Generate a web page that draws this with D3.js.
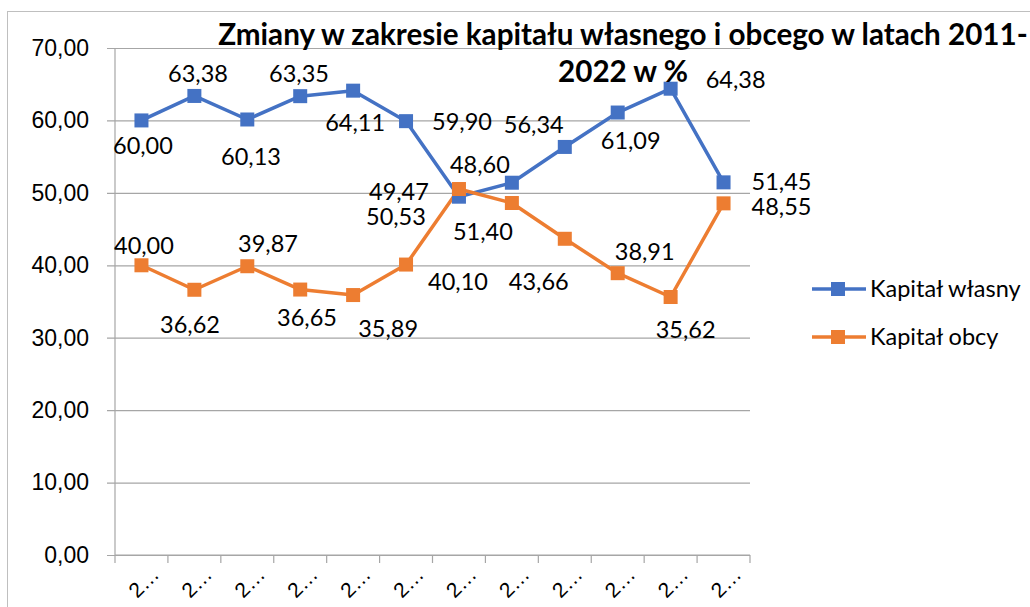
<!DOCTYPE html>
<html><head><meta charset="utf-8">
<script src="https://cdn.jsdelivr.net/npm/d3@7/dist/d3.min.js"></script>
<style>
html,body{margin:0;padding:0;background:#fff;}
svg{display:block;}
</style></head>
<body>
<svg id="chart" width="1030" height="607"></svg>
<script>
// ---- data ----
const categories = ["2011","2012","2013","2014","2015","2016","2017","2018","2019","2020","2021","2022"];
const kapitalWlasny = [60.00, 63.38, 60.13, 63.35, 64.11, 59.90, 49.47, 51.40, 56.34, 61.09, 64.38, 51.45];
const kapitalObcy   = [40.00, 36.62, 39.87, 36.65, 35.89, 40.10, 50.53, 48.60, 43.66, 38.91, 35.62, 48.55];
const yTicks = [0, 10, 20, 30, 40, 50, 60, 70];
const seriesNames = ["Kapitał własny", "Kapitał obcy"];
const titleLines = ["Zmiany w zakresie kapitału własnego i obcego w latach 2011-", "2022 w %"];

// ---- layout (label offsets in px from the marker, as dragged in the original) ----
const offsWlasny = [[1.5,25],[3.6,-22],[3.7,37.5],[-1.2,-22],[2,32],[56,1],[-60,-5],[-29,49],[-31,-22],[13,28],[65,-9],[58,-0.5]];
const offsObcy   = [[2.5,-20],[-4.4,35],[20.7,-22],[6.8,28.5],[35,34],[52,17],[-63,28],[-32,-38],[-26,43],[27,-21],[15,33],[58,3]];
const colors = ["#4472C4", "#ED7D31"];
const FONT = "Lato, 'Open Sans', sans-serif";

const pl = d3.formatLocale({decimal: ",", thousands: " ", grouping: [3], currency: ["", " zł"]});
const fmt = pl.format(".2f");

const svg = d3.select("#chart");
const L = 115, R = 750, T = 48, B = 555;

// outer border
svg.append("rect").attr("x", 7.5).attr("y", 11.5).attr("width", 1040).attr("height", 620)
  .attr("fill", "none").attr("stroke", "#bfbfbf").attr("stroke-width", 1);

const x = d3.scaleBand().domain(categories).range([L, R]).paddingInner(0).paddingOuter(0);
const y = d3.scaleLinear().domain([0, 70]).range([B, T]);
const cx = c => x(c) + x.bandwidth() / 2;

// gridlines + y axis
const yAxis = d3.axisLeft(y).tickValues(yTicks).tickSize(R - L + 8).tickPadding(18).tickFormat(fmt);
const gy = svg.append("g").attr("transform", `translate(${R},0)`).call(yAxis);
gy.select(".domain").remove();
gy.selectAll(".tick line").attr("stroke", "#a6a6a6").attr("stroke-width", 1.2);
gy.selectAll(".tick text").attr("font-family", "'Liberation Sans', Arial, sans-serif").attr("font-size", 23).attr("fill", "#000")
  .attr("x", -(R - L) - 26);

// vertical axis line
svg.append("line").attr("x1", L).attr("x2", L).attr("y1", T).attr("y2", B + 0.5)
  .attr("stroke", "#a6a6a6").attr("stroke-width", 1.2);

// x axis ticks at category boundaries
const edges = categories.map(c => x(c)).concat([R]);
svg.append("g").selectAll("line").data(edges).join("line")
  .attr("x1", d => d).attr("x2", d => d).attr("y1", B).attr("y2", B + 8)
  .attr("stroke", "#a6a6a6").attr("stroke-width", 1.2);
svg.append("line").attr("x1", L).attr("x2", R).attr("y1", B).attr("y2", B).attr("stroke", "#a6a6a6").attr("stroke-width", 1.2);

// x labels (truncated like the original)
svg.append("g").selectAll("text").data(categories).join("text")
  .attr("transform", c => `translate(${cx(c) + 19},${B + 21}) rotate(-45)`)
  .attr("text-anchor", "end")
  .attr("font-family", "'Liberation Sans', Arial, sans-serif").attr("font-size", 21)
  .text(c => c.slice(0, 1) + "…");

// series
const series = [kapitalWlasny, kapitalObcy];
const offs = [offsWlasny, offsObcy];
const line = d3.line().x((d, i) => cx(categories[i])).y(d => y(d));
const MS = 14;
series.forEach((vals, s) => {
  svg.append("path").datum(vals).attr("d", line).attr("fill", "none")
    .attr("stroke", colors[s]).attr("stroke-width", 3.5).attr("stroke-linejoin", "round");
});
series.forEach((vals, s) => {
  svg.append("g").selectAll("rect").data(vals).join("rect")
    .attr("x", (d, i) => cx(categories[i]) - MS / 2).attr("y", d => y(d) - MS / 2)
    .attr("width", MS).attr("height", MS).attr("fill", colors[s]);
});
series.forEach((vals, s) => {
  svg.append("g").selectAll("text").data(vals).join("text")
    .attr("x", (d, i) => cx(categories[i]) + offs[s][i][0])
    .attr("y", (d, i) => y(d) + offs[s][i][1])
    .attr("dy", "0.35em").attr("text-anchor", "middle")
    .attr("font-family", FONT).attr("font-size", 23.5).attr("fill", "#000")
    .text(d => fmt(d));
});

// legend
const lg = svg.append("g");
[289, 337].forEach((ly, s) => {
  lg.append("line").attr("x1", 812).attr("x2", 866).attr("y1", ly).attr("y2", ly)
    .attr("stroke", colors[s]).attr("stroke-width", 3.5);
  lg.append("rect").attr("x", 838 - MS / 2).attr("y", ly - MS / 2).attr("width", MS).attr("height", MS).attr("fill", colors[s]);
  lg.append("text").attr("x", 870).attr("y", ly).attr("dy", "0.35em")
    .attr("font-family", FONT).attr("font-size", 23.5).attr("fill", "#000").text(seriesNames[s]);
});

// title (fit first line to original width)
const t1 = svg.append("text").attr("x", 623).attr("y", 45).attr("text-anchor", "middle")
  .attr("font-family", FONT).attr("font-weight", "bold").attr("font-size", 28).text(titleLines[0]);
const w = t1.node().getComputedTextLength();
const fs = 28 * 810 / w;
t1.attr("font-size", fs);
svg.append("text").attr("x", 623).attr("y", 82).attr("text-anchor", "middle")
  .attr("font-family", FONT).attr("font-weight", "bold").attr("font-size", fs).text(titleLines[1]);
</script>
</body></html>
